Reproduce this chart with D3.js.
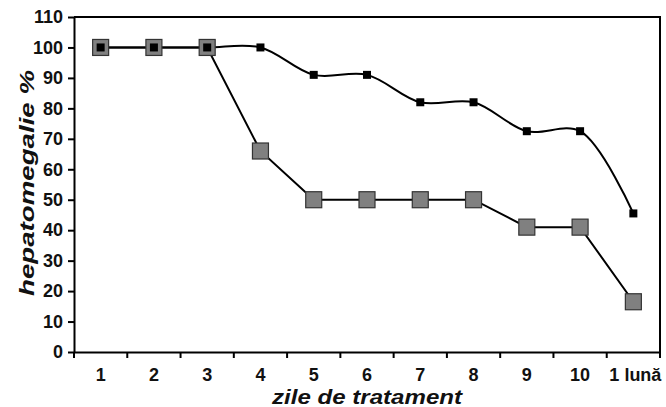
<!DOCTYPE html>
<html>
<head>
<meta charset="utf-8">
<script src="https://cdn.jsdelivr.net/npm/d3@7"></script>
<style>
  html, body { margin: 0; padding: 0; background: #fff; }
  svg { display: block; }
  text { font-family: "Liberation Sans", Arial, sans-serif; }
</style>
</head>
<body>
<svg id="chart" width="666" height="407"></svg>
<script>
// Days of treatment (x categories)
const categories = ["1", "2", "3", "4", "5", "6", "7", "8", "9", "10", "1 lună"];
// Hepatomegaly (%) – smoothed series, small black markers
const seriesSmooth = [100, 100, 100, 100, 91, 91, 82, 82, 72.5, 72.5, 45.5];
// Hepatomegaly (%) – straight series, large grey markers
const seriesStraight = [100, 100, 100, 66, 50, 50, 50, 50, 41, 41, 16.5];
// Y axis ticks
const yTicks = [0, 10, 20, 30, 40, 50, 60, 70, 80, 90, 100, 110];

const svg = d3.select("#chart");
const margin = { left: 74, right: 6, top: 17, bottom: 55 };
const W = 666, H = 407;
const x0 = margin.left, x1 = W - margin.right;
const y0 = H - margin.bottom, y1 = margin.top;

const x = d3.scaleBand().domain(categories).range([x0, x1]).paddingInner(0).paddingOuter(0);
const y = d3.scaleLinear().domain([0, 110]).range([y0, y1]);
const cx = c => x(c) + x.bandwidth() / 2;

// Plot frame (top and right)
svg.append("path")
  .attr("d", `M${x0},${y1}H${x1}V${y0}`)
  .attr("fill", "none").attr("stroke", "#000").attr("stroke-width", 2);

// Y axis
const yAxis = svg.append("g").attr("transform", `translate(${x0},0)`)
  .call(d3.axisLeft(y).tickValues(yTicks).tickSize(6).tickPadding(5).tickSizeOuter(0));
yAxis.select(".domain").attr("stroke-width", 2);
yAxis.selectAll(".tick line").attr("stroke-width", 2);
yAxis.selectAll(".tick text")
  .attr("font-size", 18).attr("font-weight", "bold").attr("fill", "#111");

// X axis: ticks on category boundaries
const xAxis = svg.append("g").attr("transform", `translate(0,${y0})`)
  .call(d3.axisBottom(x).tickSize(0).tickPadding(16).tickSizeOuter(0));
xAxis.select(".domain").attr("stroke-width", 2);
xAxis.selectAll(".tick text")
  .attr("font-size", 18).attr("font-weight", "bold").attr("fill", "#111");
xAxis.selectAll(".tick text").filter(d => d === "1 lună").attr("dx", 2);
const boundaries = categories.map(c => x(c)).concat([x1]);
xAxis.selectAll(".bt").data(boundaries).enter().append("line")
  .attr("x1", d => d).attr("x2", d => d).attr("y1", 0).attr("y2", 6)
  .attr("stroke", "#000").attr("stroke-width", 2);

// Axis titles
svg.append("text")
  .attr("transform", `translate(34,183) rotate(-90)`)
  .attr("text-anchor", "middle")
  .attr("font-size", 21).attr("font-weight", "bold").attr("font-style", "italic")
  .attr("fill", "#111")
  .attr("textLength", 226).attr("lengthAdjust", "spacingAndGlyphs")
  .text("hepatomegalie %");
svg.append("text")
  .attr("x", 367).attr("y", 404)
  .attr("text-anchor", "middle")
  .attr("font-size", 20).attr("font-weight", "bold").attr("font-style", "italic")
  .attr("fill", "#111")
  .attr("textLength", 190).attr("lengthAdjust", "spacingAndGlyphs")
  .text("zile de tratament");

// Straight series line
const lineStraight = d3.line().x((d, i) => cx(categories[i])).y(d => y(d));
svg.append("path").datum(seriesStraight)
  .attr("d", lineStraight)
  .attr("fill", "none").attr("stroke", "#000").attr("stroke-width", 2);

// Smoothed series line
const lineSmooth = d3.line().x((d, i) => cx(categories[i])).y(d => y(d))
  .curve(d3.curveCatmullRom.alpha(0.5));
svg.append("path").datum(seriesSmooth)
  .attr("d", lineSmooth)
  .attr("fill", "none").attr("stroke", "#000").attr("stroke-width", 2);

// Large grey squares
const big = 16;
svg.selectAll(".mB").data(seriesStraight).enter().append("rect")
  .attr("x", (d, i) => cx(categories[i]) - big / 2)
  .attr("y", d => y(d) - big / 2)
  .attr("width", big).attr("height", big)
  .attr("fill", "#808080").attr("stroke", "#333").attr("stroke-width", 1.2);

// Small black squares
const small = 8;
svg.selectAll(".mA").data(seriesSmooth).enter().append("rect")
  .attr("x", (d, i) => cx(categories[i]) - small / 2)
  .attr("y", d => y(d) - small / 2)
  .attr("width", small).attr("height", small)
  .attr("fill", "#000");
</script>
</body>
</html>
